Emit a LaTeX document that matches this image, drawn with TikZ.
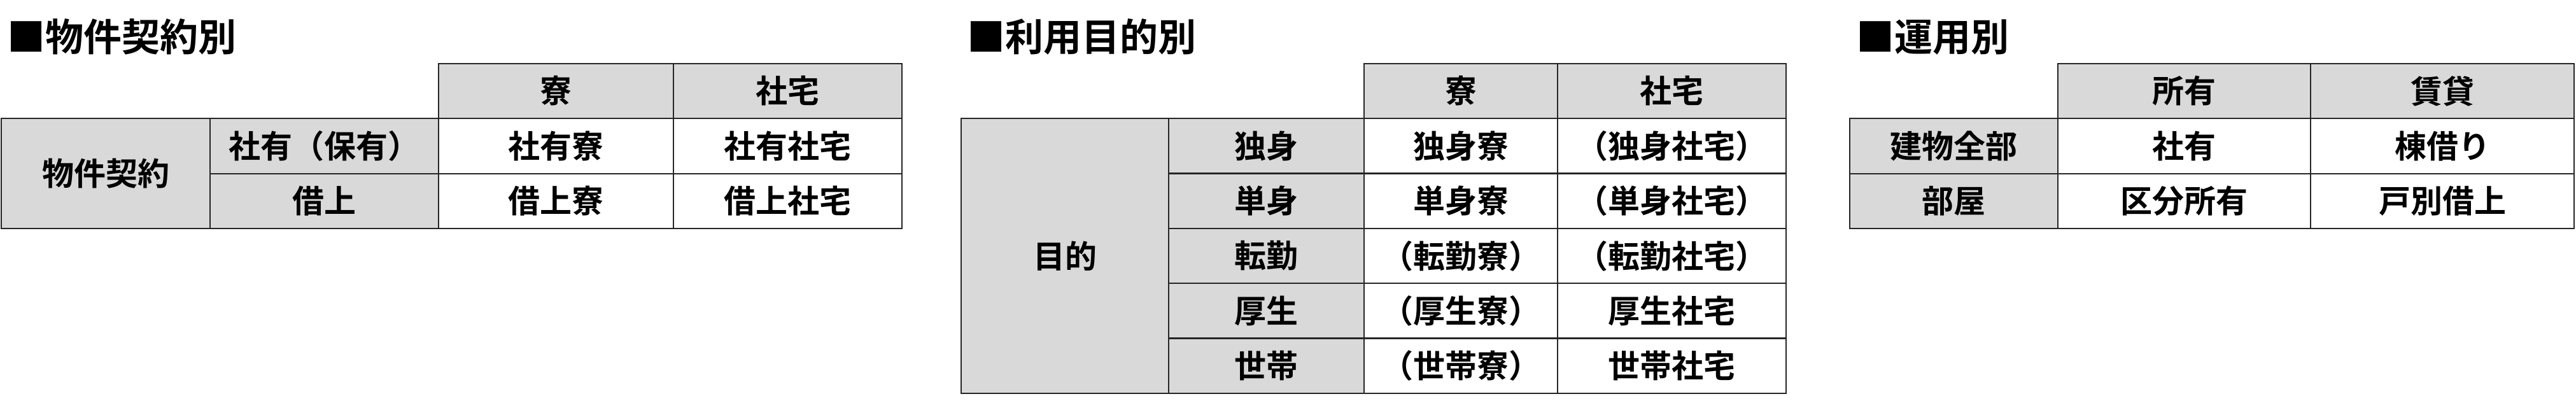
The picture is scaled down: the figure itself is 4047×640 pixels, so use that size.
\documentclass[tikz,border=0pt]{standalone}
\usepackage{fontspec}
\setmainfont{Noto Sans CJK JP Bold}
\usetikzlibrary{positioning}
\tikzset{
  grid/.style={draw=black!85,line width=2.5pt,inner sep=0pt,font=\fontsize{50}{50}\selectfont},
  hd/.style={grid,fill=black!15},
  body/.style={grid,fill=white},
  ttl/.style={anchor=west,inner sep=0pt,font=\fontsize{60}{60}\selectfont}
}
% cell from corner (x1,y1) to (x2,y2), px units, y downwards
\newcommand{\tcell}[7]{%
  \pgfmathsetmacro{\cw}{#5-#3}\pgfmathsetmacro{\ch}{#6-#4}%
  \node[#2,minimum width=\cw pt,minimum height=\ch pt] (#1) at ({(#3+#5)/2pt},{-(#4+#6)/2pt}) {#7};}

\begin{document}
\begin{tikzpicture}[x=1pt,y=1pt]
  \useasboundingbox (0,0) rectangle (4047,-640);
  % table 1
  \node[ttl] (ttlA) at (11,-58) {■物件契約別};
  \tcell{aR}{hd}{689}{100}{1058}{186}{寮}
  \tcell{aS}{hd}{1058}{100}{1417}{186}{社宅}
  \tcell{aK}{hd}{2}{186}{330}{359}{物件契約}
  \tcell{aO}{hd}{330}{186}{689}{273}{社有（保有）}
  \tcell{aB}{hd}{330}{273}{689}{359}{借上}
  \tcell{aOR}{body}{689}{186}{1058}{273}{社有寮}
  \tcell{aOS}{body}{1058}{186}{1417}{273}{社有社宅}
  \tcell{aBR}{body}{689}{273}{1058}{359}{借上寮}
  \tcell{aBS}{body}{1058}{273}{1417}{359}{借上社宅}
  % table 2
  \node[ttl] (ttlB) at (1519,-58) {■利用目的別};
  \tcell{bR}{hd}{2143}{100}{2447}{186}{寮}
  \tcell{bS}{hd}{2447}{100}{2806}{186}{社宅}
  \tcell{bM}{hd}{1510}{186}{1836}{618}{目的}
  \foreach \n/\lab/\r/\s [count=\i from 0] in {
      d/独身/独身寮/（独身社宅）,
      t/単身/単身寮/（単身社宅）,
      k/転勤/（転勤寮）/（転勤社宅）,
      h/厚生/（厚生寮）/厚生社宅,
      s/世帯/（世帯寮）/世帯社宅} {
    \pgfmathsetmacro{\ya}{186+86.4*\i}\pgfmathsetmacro{\yb}{\ya+86.4}
    \tcell{b\n}{hd}{1836}{\ya}{2143}{\yb}{\lab}
    \tcell{b\n R}{body}{2143}{\ya}{2447}{\yb}{\r}
    \tcell{b\n S}{body}{2447}{\ya}{2806}{\yb}{\s}
  }
  % table 3
  \node[ttl] (ttlC) at (2916,-58) {■運用別};
  \tcell{cO}{hd}{3233}{100}{3630}{186}{所有}
  \tcell{cL}{hd}{3630}{100}{4044}{186}{賃貸}
  \tcell{cW}{hd}{2906}{186}{3233}{273}{建物全部}
  \tcell{cP}{hd}{2906}{273}{3233}{359}{部屋}
  \tcell{cWO}{body}{3233}{186}{3630}{273}{社有}
  \tcell{cWL}{body}{3630}{186}{4044}{273}{棟借り}
  \tcell{cPO}{body}{3233}{273}{3630}{359}{区分所有}
  \tcell{cPL}{body}{3630}{273}{4044}{359}{戸別借上}
\end{tikzpicture}
\end{document}
